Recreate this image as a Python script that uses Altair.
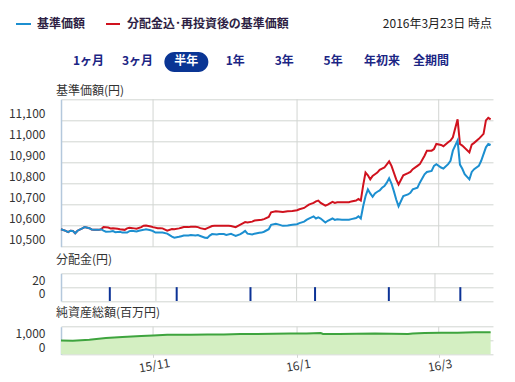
import altair as alt
import pandas as pd

FONT = "Noto Sans CJK JP"
GRID = "#d2d5d2"
DOM = "#b4c8dc"
BLUE = "#1c8fd0"
RED = "#d0121e"
NAVY = "#1b2584"
LABEL = "#333333"

# ---- data ----
blue_dates = ["2015-09-23","2015-09-25","2015-09-26","2015-09-27","2015-09-28","2015-09-29","2015-09-30","2015-10-02","2015-10-03","2015-10-05","2015-10-06","2015-10-07","2015-10-09","2015-10-10","2015-10-11","2015-10-12","2015-10-14","2015-10-15","2015-10-16","2015-10-18","2015-10-19","2015-10-21","2015-10-22","2015-10-23","2015-10-25","2015-10-26","2015-10-28","2015-10-29","2015-10-31","2015-11-01","2015-11-02","2015-11-04","2015-11-05","2015-11-07","2015-11-08","2015-11-09","2015-11-10","2015-11-12","2015-11-13","2015-11-14","2015-11-16","2015-11-17","2015-11-19","2015-11-20","2015-11-21","2015-11-23","2015-11-24","2015-11-25","2015-11-26","2015-11-28","2015-11-29","2015-12-01","2015-12-02","2015-12-04","2015-12-05","2015-12-06","2015-12-08","2015-12-09","2015-12-10","2015-12-11","2015-12-13","2015-12-14","2015-12-16","2015-12-17","2015-12-18","2015-12-20","2015-12-21","2015-12-23","2015-12-24","2015-12-26","2015-12-28","2015-12-30","2016-01-01","2016-01-02","2016-01-04","2016-01-05","2016-01-06","2016-01-08","2016-01-09","2016-01-10","2016-01-11","2016-01-13","2016-01-14","2016-01-16","2016-01-17","2016-01-18","2016-01-20","2016-01-21","2016-01-23","2016-01-24","2016-01-26","2016-01-27","2016-01-28","2016-01-29","2016-01-30","2016-01-31","2016-02-01","2016-02-02","2016-02-03","2016-02-04","2016-02-05","2016-02-06","2016-02-07","2016-02-08","2016-02-09","2016-02-10","2016-02-11","2016-02-12","2016-02-13","2016-02-15","2016-02-17","2016-02-18","2016-02-19","2016-02-21","2016-02-22","2016-02-24","2016-02-25","2016-02-27","2016-02-28","2016-02-29","2016-03-02","2016-03-03","2016-03-05","2016-03-06","2016-03-07","2016-03-09","2016-03-10","2016-03-11","2016-03-12","2016-03-14","2016-03-15","2016-03-16","2016-03-18","2016-03-19","2016-03-21","2016-03-22","2016-03-23"]
blue_vals = [10583,10575,10569,10576,10575,10564,10576,10587,10593,10588,10582,10580,10580,10583,10576,10571,10572,10574,10569,10571,10567,10567,10574,10576,10572,10576,10580,10583,10578,10574,10567,10567,10567,10562,10555,10548,10543,10547,10550,10553,10553,10555,10553,10555,10551,10543,10542,10553,10560,10558,10560,10560,10556,10561,10556,10551,10560,10567,10575,10562,10558,10562,10566,10567,10571,10583,10604,10609,10606,10599,10601,10604,10607,10612,10619,10627,10633,10644,10634,10639,10634,10615,10623,10634,10627,10630,10628,10628,10628,10631,10636,10644,10634,10692,10740,10772,10753,10737,10753,10761,10767,10780,10788,10804,10825,10800,10764,10724,10692,10740,10748,10756,10772,10780,10804,10844,10855,10860,10884,10892,10876,10871,10892,10908,10956,11004,10890,10870,10844,10820,10855,10868,10884,10908,10972,10988,10983]

red_dates = ["2015-09-23","2015-09-25","2015-09-26","2015-09-27","2015-09-28","2015-09-29","2015-09-30","2015-10-02","2015-10-03","2015-10-05","2015-10-06","2015-10-07","2015-10-09","2015-10-10","2015-10-11","2015-10-13","2015-10-14","2015-10-15","2015-10-17","2015-10-18","2015-10-20","2015-10-21","2015-10-22","2015-10-24","2015-10-25","2015-10-27","2015-10-28","2015-10-29","2015-10-31","2015-11-01","2015-11-03","2015-11-04","2015-11-05","2015-11-07","2015-11-09","2015-11-10","2015-11-12","2015-11-13","2015-11-14","2015-11-16","2015-11-17","2015-11-19","2015-11-20","2015-11-21","2015-11-23","2015-11-24","2015-11-26","2015-11-27","2015-11-29","2015-11-30","2015-12-02","2015-12-03","2015-12-04","2015-12-06","2015-12-07","2015-12-09","2015-12-10","2015-12-11","2015-12-13","2015-12-14","2015-12-16","2015-12-17","2015-12-18","2015-12-20","2015-12-21","2015-12-23","2015-12-24","2015-12-26","2015-12-28","2015-12-30","2016-01-01","2016-01-02","2016-01-04","2016-01-05","2016-01-06","2016-01-08","2016-01-09","2016-01-10","2016-01-11","2016-01-13","2016-01-14","2016-01-16","2016-01-17","2016-01-18","2016-01-20","2016-01-21","2016-01-23","2016-01-24","2016-01-26","2016-01-27","2016-01-28","2016-01-29","2016-01-30","2016-01-31","2016-02-01","2016-02-02","2016-02-03","2016-02-04","2016-02-05","2016-02-06","2016-02-07","2016-02-09","2016-02-10","2016-02-12","2016-02-13","2016-02-15","2016-02-17","2016-02-18","2016-02-19","2016-02-21","2016-02-22","2016-02-24","2016-02-25","2016-02-27","2016-02-28","2016-02-29","2016-03-02","2016-03-03","2016-03-05","2016-03-06","2016-03-07","2016-03-09","2016-03-10","2016-03-11","2016-03-14","2016-03-15","2016-03-16","2016-03-18","2016-03-20","2016-03-21","2016-03-22","2016-03-23"]
red_vals = [10583,10575,10569,10576,10575,10564,10576,10587,10593,10588,10582,10580,10580,10583,10593,10591,10587,10588,10585,10583,10580,10587,10590,10587,10585,10593,10600,10601,10596,10593,10588,10588,10587,10576,10584,10583,10587,10590,10593,10593,10595,10595,10593,10588,10583,10588,10598,10599,10599,10599,10599,10599,10598,10593,10599,10611,10617,10615,10619,10624,10627,10628,10631,10641,10663,10668,10667,10665,10668,10670,10673,10678,10684,10692,10700,10708,10715,10719,10708,10695,10700,10713,10708,10711,10711,10711,10711,10715,10719,10727,10719,10791,10852,10839,10820,10836,10844,10852,10865,10871,10876,10905,10884,10820,10796,10839,10849,10855,10868,10884,10892,10932,10956,10956,10964,10988,10983,10977,10996,11004,11020,11105,10988,10980,10948,10985,10993,11012,11036,11100,11112,11105]

dist_dates = ["2015-10-12","2015-11-10","2015-12-12","2016-01-09","2016-02-10","2016-03-12"]
dist_vals = [20, 20, 20, 20, 20, 20]

nav_dates = ["2015-09-23","2015-09-28","2015-10-05","2015-10-12","2015-10-19","2015-10-27","2015-11-01","2015-11-07","2015-11-17","2015-11-24","2015-12-01","2015-12-08","2015-12-15","2015-12-22","2015-12-29","2016-01-05","2016-01-11","2016-01-12","2016-01-19","2016-01-26","2016-02-03","2016-02-10","2016-02-17","2016-02-19","2016-02-24","2016-03-02","2016-03-09","2016-03-16","2016-03-23"]
nav_vals = [1000,990,1050,1175,1250,1320,1370,1420,1420,1440,1440,1470,1470,1490,1515,1515,1545,1470,1470,1490,1515,1490,1470,1515,1545,1565,1565,1590,1590]

tick_dates = ["2015-11-01", "2016-01-01", "2016-03-01"]
main_ticks = [10500, 10600, 10700, 10800, 10900, 11000, 11100, 11200]
dist_ticks = [0, 20, 40]
nav_ticks = [0, 1000, 2000]
buttons = ["1ヶ月", "3ヶ月", "半年", "1年", "3年", "5年", "年初来", "全期間"]
selected = "半年"


def dt(s):
    y, m, d = (int(p) for p in s.split("-"))
    return alt.DateTime(year=y, month=m, date=d)


def frame(dates, vals):
    return pd.DataFrame({"date": pd.to_datetime(dates), "value": vals})


blue_df = frame(blue_dates, blue_vals)
red_df = frame(red_dates, red_vals)
dist_df = frame(dist_dates, dist_vals)
nav_df = frame(nav_dates, nav_vals)
tick_df = pd.DataFrame({"date": pd.to_datetime(tick_dates)})
btn_df = pd.DataFrame({"label": buttons})
one = pd.DataFrame({"k": [0]})

x_scale = alt.Scale(domain=[dt("2015-09-23"), dt("2016-03-24")], nice=False)


def yaxis(values):
    return alt.Axis(values=values, orient="left", title=None,
                    labelExpr=f"datum.value >= {values[-1]} ? '' : format(datum.value, ',')",
                    grid=True, gridColor=GRID, gridWidth=1,
                    domain=True, domainColor=DOM, domainWidth=1.5,
                    ticks=False, labelPadding=16, labelBaseline="bottom")


def xenc(axis=None):
    return alt.X("date:T", scale=x_scale, axis=axis)


# ---- main panel ----
main_sc = alt.Scale(domain=[10500, 11200], range=[147.4, 0], nice=False, zero=False)
main_ax = yaxis(main_ticks)
main_rules = alt.Chart(tick_df).mark_rule(color=GRID, strokeWidth=1).encode(
    x=xenc(), y=alt.YDatum(10500, scale=main_sc, axis=main_ax), y2=alt.Y2Datum(11200))
red_line = alt.Chart(red_df).mark_line(color=RED, strokeWidth=2).encode(
    x=xenc(), y=alt.Y("value:Q", scale=main_sc, axis=main_ax))
blue_line = alt.Chart(blue_df).mark_line(color=BLUE, strokeWidth=2).encode(
    x=xenc(), y=alt.Y("value:Q", scale=main_sc, axis=main_ax))
main = alt.layer(main_rules, red_line, blue_line)

# ---- distribution panel ----
dist_sc = alt.Scale(domain=[0, 40], range=[201.7, 174], nice=False)
dist_ax = yaxis(dist_ticks)
dist_rules = alt.Chart(tick_df).mark_rule(color=GRID, strokeWidth=1).encode(
    x=xenc(), y=alt.YDatum(0, scale=dist_sc, axis=dist_ax), y2=alt.Y2Datum(40))
dist_bars = alt.Chart(dist_df).mark_bar(width=2, color="#0c3296").encode(
    x=xenc(), y=alt.Y("value:Q", scale=dist_sc, axis=dist_ax))
dist = alt.layer(dist_rules, dist_bars)

# ---- net assets panel ----
nav_sc = alt.Scale(domain=[0, 2000], range=[255, 227.4], nice=False)
nav_ax = yaxis(nav_ticks)
nav_xax = alt.Axis(values=[dt(s) for s in tick_dates], format="%y/%-m", orient="bottom",
                   title=None, grid=False, domain=False, ticks=True, tickSize=3,
                   tickColor=GRID, labelAngle=350, labelAlign="center", labelBaseline="top",
                   labelPadding=3, labelFontSize=12)
nav_rules = alt.Chart(tick_df).mark_rule(color=GRID, strokeWidth=1).encode(
    x=xenc(nav_xax), y=alt.YDatum(0, scale=nav_sc, axis=nav_ax), y2=alt.Y2Datum(2000))
nav_area = alt.Chart(nav_df).mark_area(
    color="#d4efc2", opacity=1, line={"color": "#3ea43e", "strokeWidth": 2}).encode(
    x=xenc(nav_xax), y=alt.Y("value:Q", scale=nav_sc, axis=nav_ax))
nav = alt.layer(nav_rules, nav_area)


# ---- header / titles ----
def text(t, x, y, align="left", size=12, weight="normal", color=LABEL):
    return alt.Chart(one).mark_text(text=t, align=align, baseline="middle", font=FONT,
                                    fontSize=size, fontWeight=weight, color=color).encode(
        x=alt.value(x), y=alt.value(y))


def swatch(color, x1, x2, y):
    return alt.Chart(one).mark_rule(color=color, strokeWidth=2).encode(
        x=alt.value(x1), x2=alt.value(x2), y=alt.value(y))


LEG = "#2e1f44"
header = [
    swatch(BLUE, -45, -30, -75.3),
    text("基準価額", -24, -75.3, weight="bold", color=LEG),
    swatch(RED, 45, 59, -75.3),
    text("分配金込･再投資後の基準価額", 66, -75.3, weight="bold", color=LEG),
    text("2016年3月23日 時点", 431, -75.3, align="right", color="#222222"),
    text("基準価額(円)", -5, -8.3),
    text("分配金(円)", -5, 161.2),
    text("純資産総額(百万円)", -5, 214),
]

btn_x = alt.X("label:N", scale=alt.Scale(type="point", domain=buttons, range=[27.5, 370], padding=0), axis=None)
PILL = ("M -0.5455 -0.4545 L 0.5455 -0.4545 A 0.4545 0.4545 0 0 1 0.5455 0.4545 "
        "L -0.5455 0.4545 A 0.4545 0.4545 0 0 1 -0.5455 -0.4545 Z")
pill = alt.Chart(btn_df).transform_filter(alt.datum.label == selected).mark_point(
    shape=PILL, size=1936, filled=True, color="#0a3594", opacity=1, strokeWidth=0).encode(
    x=btn_x, y=alt.value(-37.3))
btn_text = alt.Chart(btn_df).mark_text(font=FONT, fontSize=12, fontWeight="bold",
                                       baseline="middle").encode(
    x=btn_x, y=alt.value(-38.3), text="label:N",
    color=alt.condition(alt.datum.label == selected, alt.value("white"), alt.value(NAVY)))

chart = alt.layer(main, dist, nav, *header, pill, btn_text).resolve_scale(
    x="independent", y="independent"
).properties(
    width=432, height=255,
    autosize=alt.AutoSizeParams(type="none"),
    padding={"left": 53, "top": 91.3, "right": 14, "bottom": 26},
).configure_view(stroke=None).configure_axis(
    labelFont=FONT, labelFontSize=12, labelColor=LABEL
)

chart.save("out.html", embed_options={"renderer": "svg", "actions": False})
